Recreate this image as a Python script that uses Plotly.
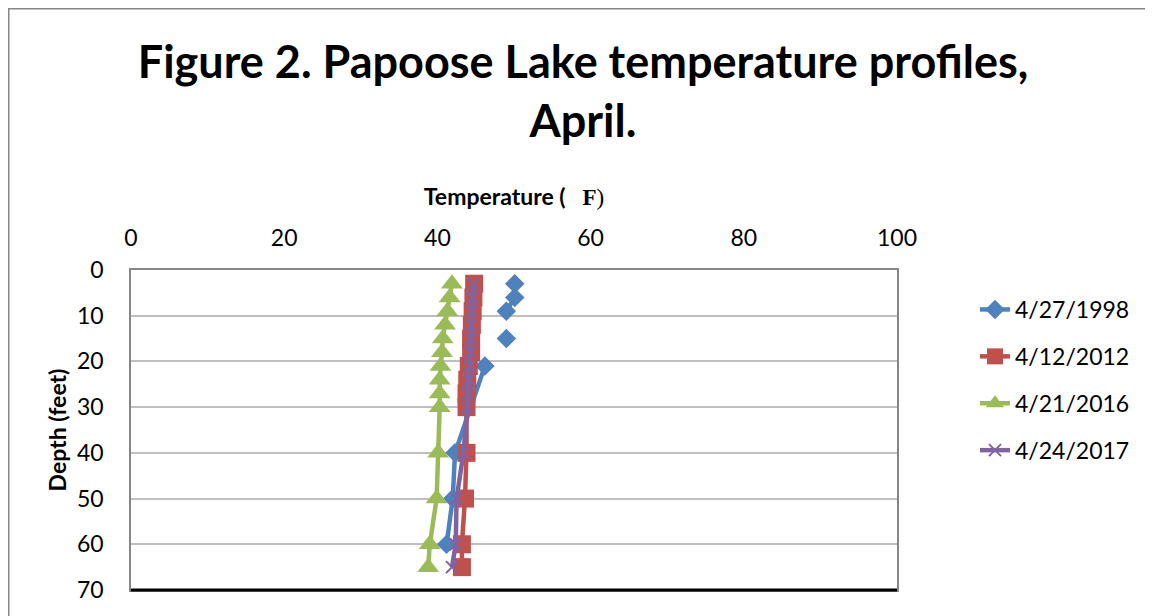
import plotly.graph_objects as go

# ---- data ----
depth_1998 = [3, 6, 9, 12, 15, 18, 21, 40, 50, 60]
temp_1998 = [50.1, 50.1, 49.0, None, 49.0, None, 46.2, 42.3, 42.0, 41.2]

depth_2012 = [3, 6, 9, 12, 15, 18, 21, 24, 27, 30, 40, 50, 60, 65]
temp_2012 = [44.8, 44.7, 44.6, 44.5, 44.4, 44.4, 44.1, 43.9, 43.8, 43.8, 43.8, 43.6, 43.2, 43.2]

depth_2016 = [3, 6, 9, 12, 15, 18, 21, 24, 27, 30, 40, 50, 60, 65]
temp_2016 = [41.9, 41.6, 41.3, 41.0, 40.7, 40.6, 40.4, 40.3, 40.3, 40.3, 40.1, 39.9, 39.0, 38.8]

depth_2017 = [3, 6, 9, 12, 15, 18, 21, 24, 27, 30, 40, 50, 60, 65]
temp_2017 = [44.7, 44.6, 44.5, 44.4, 44.4, 44.3, 44.2, 44.1, 44.0, 43.9, 43.4, 42.5, 42.4, 41.9]

series_names = ["4/27/1998", "4/12/2012", "4/21/2016", "4/24/2017"]
x_ticks = [0, 20, 40, 60, 80, 100]
y_ticks = [0, 10, 20, 30, 40, 50, 60, 70]

FONT = "Lato"

fig = go.Figure()

def add(name, x, y, color, symbol, size, grp, mline=None):
    marker = dict(symbol=symbol, size=size, color=color)
    if mline:
        marker["line"] = dict(color=color, width=mline)
    fig.add_trace(go.Scatter(
        x=x, y=y, name=name, mode="lines+markers",
        line=dict(color=color, width=4.5),
        marker=marker, connectgaps=False, legendgroup=grp,
    ))

add(series_names[0], temp_1998, depth_1998, "#4F81BD", "diamond", 15, "a")
add(series_names[1], temp_2012, depth_2012, "#C0504D", "square", 18, "b")
add(series_names[2], temp_2016, depth_2016, "#9BBB59", "triangle-up", 19, "c")
add(series_names[3], temp_2017, depth_2017, "#8064A2", "x-thin", 12, "d", mline=2)

# page has an 8px body margin: work in page coordinates and shift
OFF = 8
W, H = 1153 - OFF, 616 - OFF
L, R, T, B = 131 - OFF, 897 - OFF, 270 - OFF, 590 - OFF
pw, ph = R - L, B - T

def px(page_x):
    return (page_x - OFF - L) / pw

def py(page_y):
    return (B - (page_y - OFF)) / ph

fig.update_layout(
    width=W, height=H,
    margin=dict(l=L, r=W - R, t=T, b=H - B),
    paper_bgcolor="white", plot_bgcolor="white",
    font=dict(family=FONT, size=22, color="#000000"),
    title=dict(
        text="<b>Figure 2. Papoose Lake temperature profiles,<br>April.</b>",
        xref="container", x=(583 - OFF) / W, xanchor="center",
        y=1 - (78 - OFF) / H, yanchor="top",
        font=dict(family=FONT, size=45, color="#000000"),
    ),
    xaxis=dict(
        side="top", range=[0, 100], tickvals=x_ticks,
        showgrid=False, zeroline=False,
        showline=True, linecolor="#868686", linewidth=1.5, mirror=True,
        ticks="", ticklabelstandoff=13,
        tickfont=dict(family=FONT, size=23),
        title=dict(
            text='<b>Temperature (   </b><span style="font-family:Liberation Serif"><b>F</b>)</span>',
            font=dict(family=FONT, size=23), standoff=11,
        ),
    ),
    yaxis=dict(
        autorange=False, range=[70, 0], tickvals=y_ticks,
        showgrid=True, gridcolor="#BFBFBF", gridwidth=2,
        zeroline=False,
        showline=True, linecolor="#868686", linewidth=1.5, mirror=True,
        ticks="", ticklabelstandoff=21,
        tickfont=dict(family=FONT, size=23),
        title=dict(text="<b>Depth (feet)</b>", font=dict(family=FONT, size=23), standoff=4),
    ),
    legend=dict(
        x=px(975), y=py(288), xanchor="left", yanchor="top",
        font=dict(family=FONT, size=23),
        tracegroupgap=14, bgcolor="rgba(0,0,0,0)",
    ),
    showlegend=True,
)

# bottom axis black line and outer chart border
fig.add_shape(type="line", xref="paper", yref="paper", x0=0, x1=1, y0=0, y1=0,
              line=dict(color="#000000", width=3), layer="above")
fig.add_shape(type="rect", xref="paper", yref="paper",
              x0=px(OFF + 0.75), x1=px(1150), y0=py(OFF + 0.75), y1=py(640),
              line=dict(color="#868686", width=1.5), layer="below")

fig.write_html("out.html")
